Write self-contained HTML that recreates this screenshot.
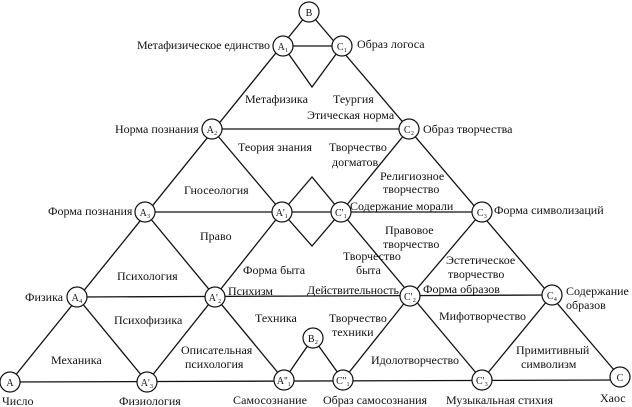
<!DOCTYPE html>
<html><head><meta charset="utf-8"><style>
html,body{margin:0;padding:0;background:#fff}
svg{display:block}
text{font-family:"Liberation Serif",serif;font-size:12px;fill:#111}
.n{font-size:10px;text-anchor:middle}
</style></head><body>
<svg width="632" height="407" viewBox="0 0 632 407" xmlns="http://www.w3.org/2000/svg">
<g stroke="#111" stroke-width="1.3" fill="none">
<line x1="10" y1="382" x2="309" y2="12"/>
<line x1="309" y1="12" x2="620" y2="377"/>
<line x1="10" y1="382" x2="620" y2="380"/>
<line x1="283" y1="46" x2="342" y2="46"/>
<line x1="212" y1="129" x2="409" y2="129"/>
<line x1="145" y1="212" x2="482" y2="212"/>
<line x1="77" y1="297" x2="552" y2="295"/>
<polyline points="283,46 312,87 342,46"/>
<polygon points="282,212 312,177 341,212 312,246"/>
<line x1="212" y1="129" x2="282" y2="212"/>
<line x1="282" y1="212" x2="147" y2="382"/>
<line x1="145" y1="212" x2="284" y2="380"/>
<line x1="77" y1="297" x2="147" y2="382"/>
<line x1="409" y1="129" x2="341" y2="212"/>
<line x1="410" y1="296" x2="343" y2="380"/>
<line x1="341" y1="212" x2="482" y2="380"/>
<line x1="482" y1="212" x2="410" y2="297"/>
<line x1="552" y1="295" x2="482" y2="380"/>
<line x1="284" y1="380" x2="313" y2="338"/>
<line x1="313" y1="338" x2="343" y2="380"/>
</g>
<g fill="#fff" stroke="#111" stroke-width="1.2">
<circle cx="309" cy="12" r="10"/>
<circle cx="283" cy="46" r="10"/>
<circle cx="342" cy="46" r="10"/>
<circle cx="212" cy="129" r="10"/>
<circle cx="409" cy="129" r="10"/>
<circle cx="145" cy="212" r="10"/>
<circle cx="282" cy="212" r="10"/>
<circle cx="341" cy="212" r="10"/>
<circle cx="482" cy="212" r="10"/>
<circle cx="77" cy="297" r="10"/>
<circle cx="215" cy="297" r="10"/>
<circle cx="410" cy="296" r="10"/>
<circle cx="552" cy="295" r="10"/>
<circle cx="10" cy="382" r="10"/>
<circle cx="147" cy="382" r="10"/>
<circle cx="284" cy="380" r="10"/>
<circle cx="343" cy="380" r="10"/>
<circle cx="482" cy="380" r="10"/>
<circle cx="620" cy="377" r="10"/>
<circle cx="313" cy="338" r="10"/>
</g>
<text class="n" x="309" y="16">B</text>
<text class="n" x="283" y="50">A₁</text>
<text class="n" x="342" y="50">C₁</text>
<text class="n" x="212" y="133">A₂</text>
<text class="n" x="409" y="133">C₂</text>
<text class="n" x="145" y="216">A₃</text>
<text class="n" x="282" y="216">A'₁</text>
<text class="n" x="341" y="216">C'₁</text>
<text class="n" x="482" y="216">C₃</text>
<text class="n" x="77" y="301">A₄</text>
<text class="n" x="215" y="301">A'₂</text>
<text class="n" x="410" y="300">C'₂</text>
<text class="n" x="552" y="299">C₄</text>
<text class="n" x="10" y="386">A</text>
<text class="n" x="147" y="386">A'₃</text>
<text class="n" x="284" y="384">A''₁</text>
<text class="n" x="343" y="384">C''₁</text>
<text class="n" x="482" y="384">C'₃</text>
<text class="n" x="620" y="381">C</text>
<text class="n" x="313" y="342">B₂</text>

<text x="137" y="49" textLength="133">Метафизическое единство</text>
<text x="357" y="48">Образ логоса</text>
<text x="245" y="103">Метафизика</text>
<text x="333" y="103">Теургия</text>
<text x="307" y="119">Этическая норма</text>
<text x="115" y="133">Норма познания</text>
<text x="423" y="133">Образ творчества</text>
<text x="238" y="151">Теория знания</text>
<text x="329" y="151">Творчество</text>
<text x="332" y="166">догматов</text>
<text x="380" y="180">Религиозное</text>
<text x="383" y="193">творчество</text>
<text x="184" y="194">Гносеология</text>
<text x="48" y="215">Форма познания</text>
<text x="350" y="210">Содержание морали</text>
<text x="494" y="214">Форма символизаций</text>
<text x="200" y="240">Право</text>
<text x="385" y="234">Правовое</text>
<text x="383" y="248">творчество</text>
<text x="343" y="260">Творчество</text>
<text x="356" y="274">быта</text>
<text x="446" y="264">Эстетическое</text>
<text x="448" y="278">творчество</text>
<text x="117" y="280">Психология</text>
<text x="243" y="274">Форма быта</text>
<text x="25" y="301">Физика</text>
<text x="228" y="295">Психизм</text>
<text x="307" y="294" textLength="92">Действительность</text>
<text x="423" y="293">Форма образов</text>
<text x="566" y="295">Содержание</text>
<text x="566" y="309">образов</text>
<text x="114" y="324">Психофизика</text>
<text x="255" y="322">Техника</text>
<text x="329" y="322">Творчество</text>
<text x="332" y="336">техники</text>
<text x="439" y="320">Мифотворчество</text>
<text x="181" y="354">Описательная</text>
<text x="185" y="368">психология</text>
<text x="371" y="364" textLength="88">Идолотворчество</text>
<text x="516" y="354">Примитивный</text>
<text x="521" y="368">символизм</text>
<text x="51" y="364">Механика</text>
<text x="2" y="405">Число</text>
<text x="119" y="405">Физиология</text>
<text x="233" y="404" textLength="74">Самосознание</text>
<text x="323" y="404" textLength="104">Образ самосознания</text>
<text x="446" y="404" textLength="107">Музыкальная стихия</text>
<text x="600" y="402">Хаос</text>
</svg>
</body></html>
